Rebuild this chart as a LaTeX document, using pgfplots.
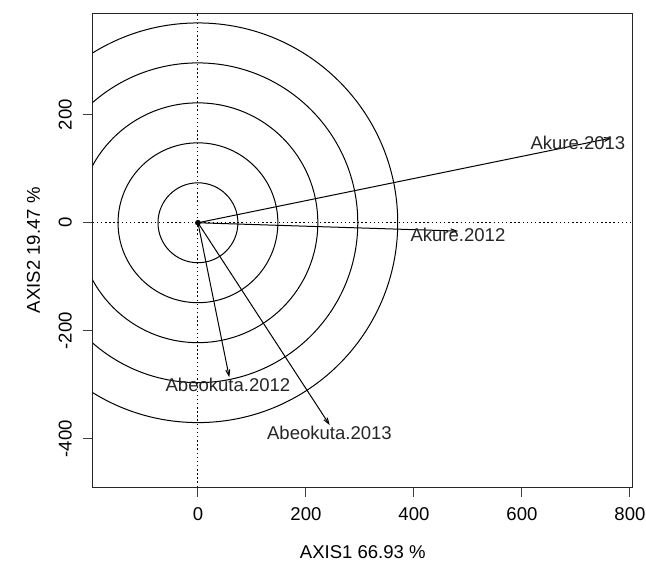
\documentclass[border=0pt]{standalone}
\usepackage{fontspec}
\setmainfont{Liberation Sans}
\usepackage{pgfplots}
\pgfplotsset{compat=1.18}
\usetikzlibrary{arrows.meta}

\begin{document}
\begin{tikzpicture}[font=\fontsize{13.9}{16.7}\selectfont]
\path[use as bounding box] (-69.5pt,-56.25pt) rectangle (415.0pt,365.3pt);
\begin{axis}[
  at={(0,0)}, anchor=south west,
  width=405.2pt, height=355.3pt, scale only axis,
  xmin=-195, xmax=805.6, ymin=-489.4, ymax=387.8,
  axis line style={line width=0.75pt, black!85},
  xtick={0,200,400,600,800}, xticklabels={0,200,400,600,800},
  ytick={-400,-200,0,200}, yticklabels={-400,-200,0,200},
  tick align=outside, major tick length=7.5pt,
  tick style={line width=0.75pt, black!75},
  xtick pos=left, ytick pos=left,
  xticklabel style={anchor=base, yshift=-17.25pt},
  yticklabel style={xshift=-8.25pt, rotate=90, anchor=base},
  every axis x label/.style={at={(axis description cs:0.5,0)}, yshift=-53.25pt, anchor=base},
  every axis y label/.style={at={(axis description cs:0,0.5)}, xshift=-39.5pt, rotate=90, anchor=base},
  xlabel={AXIS1 66.93 \%},
  ylabel={AXIS2 19.47 \%},
  clip=true,
]
% dotted reference lines
\addplot[black, line width=0.75pt, dash pattern=on 1.1pt off 2pt] coordinates {(-195,0) (805.6,0)};
\addplot[black, line width=0.75pt, dash pattern=on 1.1pt off 2pt] coordinates {(0,-489.4) (0,387.8)};
% concentric circles
\draw[line width=0.75pt] (axis cs:0,0) circle [radius=74];
\draw[line width=0.75pt] (axis cs:0,0) circle [radius=148];
\draw[line width=0.75pt] (axis cs:0,0) circle [radius=222];
\draw[line width=0.75pt] (axis cs:0,0) circle [radius=296];
\draw[line width=0.75pt] (axis cs:0,0) circle [radius=370];
% arrows
\addplot[black, line width=0.75pt, -{Straight Barb[length=4.5pt,width=3pt]}] coordinates {(0,0) (766,157)};
\addplot[black, line width=0.75pt, -{Straight Barb[length=4.5pt,width=3pt]}] coordinates {(0,0) (482,-15.4)};
\addplot[black, line width=0.75pt, -{Straight Barb[length=4.5pt,width=3pt]}] coordinates {(0,0) (58,-286)};
\addplot[black, line width=0.75pt, -{Straight Barb[length=4.5pt,width=3pt]}] coordinates {(0,0) (244,-374.6)};
\addplot[only marks, mark=*, mark size=1.9pt, black] coordinates {(0,0)};
% labels
\node[anchor=center, inner sep=0pt, text=black!85] at (axis cs:703.7,147.6) {Akure.2013};
\node[anchor=center, inner sep=0pt, text=black!85] at (axis cs:481.5,-22.8) {Akure.2012};
\node[anchor=center, inner sep=0pt, text=black!85] at (axis cs:55.6,-300.6) {Abeokuta.2012};
\node[anchor=center, inner sep=0pt, text=black!85] at (axis cs:243.5,-389.5) {Abeokuta.2013};
\end{axis}
\end{tikzpicture}
\end{document}
